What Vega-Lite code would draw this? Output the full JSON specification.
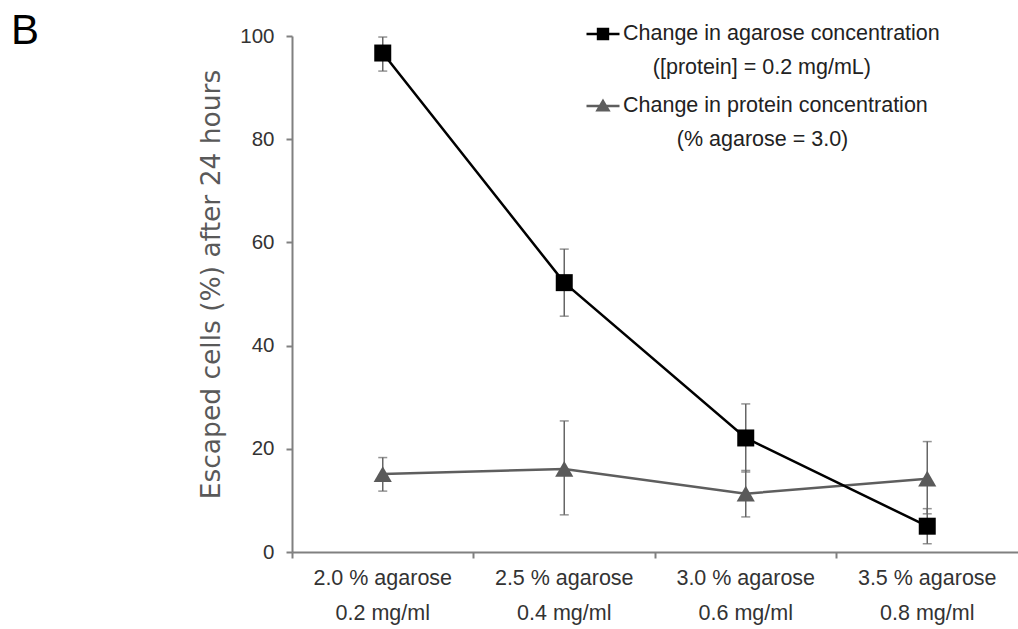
{
  "$schema": "https://vega.github.io/schema/vega-lite/v6.json",
  "autosize": "none",
  "padding": {"left": 292, "top": 36, "right": 0, "bottom": 77},
  "width": 726,
  "height": 516,
  "background": "white",
  "title": {
    "text": "B",
    "anchor": "start",
    "frame": "group",
    "font": "Liberation Sans",
    "fontSize": 42,
    "fontWeight": "normal",
    "color": "#000000",
    "baseline": "alphabetic",
    "offset": 0,
    "dx": -281,
    "dy": 70
  },
  "data": {
    "values": [
      {"cat": "2.0 % agarose|0.2 mg/ml", "series": "protein", "y": 15.1, "lo": 11.8, "hi": 18.3},
      {"cat": "2.5 % agarose|0.4 mg/ml", "series": "protein", "y": 16.1, "lo": 7.2, "hi": 25.4},
      {"cat": "3.0 % agarose|0.6 mg/ml", "series": "protein", "y": 11.3, "lo": 6.8, "hi": 15.8},
      {"cat": "3.5 % agarose|0.8 mg/ml", "series": "protein", "y": 14.2, "lo": 7.4, "hi": 21.4},
      {"cat": "2.0 % agarose|0.2 mg/ml", "series": "agarose", "y": 96.7, "lo": 93.2, "hi": 99.8},
      {"cat": "2.5 % agarose|0.4 mg/ml", "series": "agarose", "y": 52.2, "lo": 45.7, "hi": 58.7},
      {"cat": "3.0 % agarose|0.6 mg/ml", "series": "agarose", "y": 22.1, "lo": 15.5, "hi": 28.7},
      {"cat": "3.5 % agarose|0.8 mg/ml", "series": "agarose", "y": 5.0, "lo": 1.6, "hi": 8.4}
    ]
  },
  "encoding": {
    "x": {
      "field": "cat",
      "type": "nominal",
      "sort": null,
      "scale": {"type": "band", "paddingInner": 0, "paddingOuter": 0},
      "axis": {
        "title": null,
        "labelExpr": "split(datum.label, '|')",
        "labelAngle": 0,
        "labelFont": "Liberation Sans",
        "labelFontSize": 21.5,
        "labelColor": "#333333",
        "labelLineHeight": 35,
        "labelPadding": 9,
        "labelBaseline": "top",
        "bandPosition": 0,
        "tickSize": 6,
        "tickColor": "#808080",
        "tickWidth": 2,
        "domainColor": "#808080",
        "domainWidth": 2,
        "grid": false
      }
    },
    "y": {
      "field": "y",
      "type": "quantitative",
      "scale": {"domain": [0, 100], "nice": false},
      "axis": {
        "values": [0, 20, 40, 60, 80, 100],
        "title": "Escaped cells (%) after 24 hours",
        "titleFont": "DejaVu Sans",
        "titleFontSize": 26.5,
        "titleFontWeight": "normal",
        "titleColor": "#595959",
        "titlePadding": 14,
        "titleY": 248,
        "labelFont": "Liberation Sans",
        "labelFontSize": 20.5,
        "labelColor": "#333333",
        "labelPadding": 12,
        "tickSize": 6,
        "tickColor": "#808080",
        "tickWidth": 2,
        "domainColor": "#808080",
        "domainWidth": 2,
        "grid": false
      }
    }
  },
  "layer": [
    {
      "mark": {"type": "rule", "color": "#666666", "strokeWidth": 1.5},
      "encoding": {"y": {"field": "lo", "type": "quantitative"}, "y2": {"field": "hi"}}
    },
    {
      "mark": {"type": "tick", "color": "#666666", "thickness": 1.5, "size": 9, "orient": "horizontal"},
      "encoding": {"y": {"field": "lo", "type": "quantitative"}}
    },
    {
      "mark": {"type": "tick", "color": "#666666", "thickness": 1.5, "size": 9, "orient": "horizontal"},
      "encoding": {"y": {"field": "hi", "type": "quantitative"}}
    },
    {
      "mark": {"type": "line", "strokeWidth": 2.5},
      "encoding": {
        "color": {
          "field": "series",
          "type": "nominal",
          "scale": {"domain": ["agarose", "protein"], "range": ["#000000", "#5e5e5e"]},
          "legend": {
            "orient": "none",
            "legendX": 293,
            "legendY": -20,
            "title": null,
            "padding": 0,
            "symbolSize": 1089,
            "symbolStrokeWidth": 2.5,
            "labelExpr": "datum.value == 'agarose' ? ['Change in agarose concentration', '\u200b\u00a0\u00a0\u00a0\u00a0\u00a0([protein] = 0.2 mg/mL)'] : ['Change in protein concentration', '\u200b\u00a0\u00a0\u00a0\u00a0\u00a0\u00a0\u00a0\u00a0\u00a0(% agarose = 3.0)']",
            "labelFont": "Liberation Sans",
            "labelFontSize": 21.5,
            "labelColor": "#222222",
            "labelLimit": 600,
            "labelOffset": 2,
            "rowPadding": 9,
            "encode": {
              "labels": {"update": {"lineHeight": {"value": 34}}},
              "symbols": {
                "update": {
                  "shape": {"signal": "datum.value == 'agarose' ? 'M-1,0H1M-0.3,-0.3H0.3V0.3H-0.3Z' : 'M-1,0H1M0,-0.3L0.33,0.25H-0.33Z'"},
                  "fill": {"signal": "datum.value == 'agarose' ? '#000000' : '#5e5e5e'"},
                  "stroke": {"signal": "datum.value == 'agarose' ? '#000000' : '#5e5e5e'"},
                  "strokeWidth": {"value": 2.5}
                }
              }
            }
          }
        }
      }
    },
    {
      "transform": [{"filter": "datum.series == 'agarose'"}],
      "mark": {"type": "point", "shape": "square", "filled": true, "size": 289, "color": "#000000", "opacity": 1}
    },
    {
      "transform": [{"filter": "datum.series == 'protein'"}],
      "mark": {"type": "point", "shape": "triangle-up", "filled": true, "size": 330, "color": "#5a5a5a", "opacity": 1}
    }
  ],
  "config": {"view": {"stroke": null}}
}
